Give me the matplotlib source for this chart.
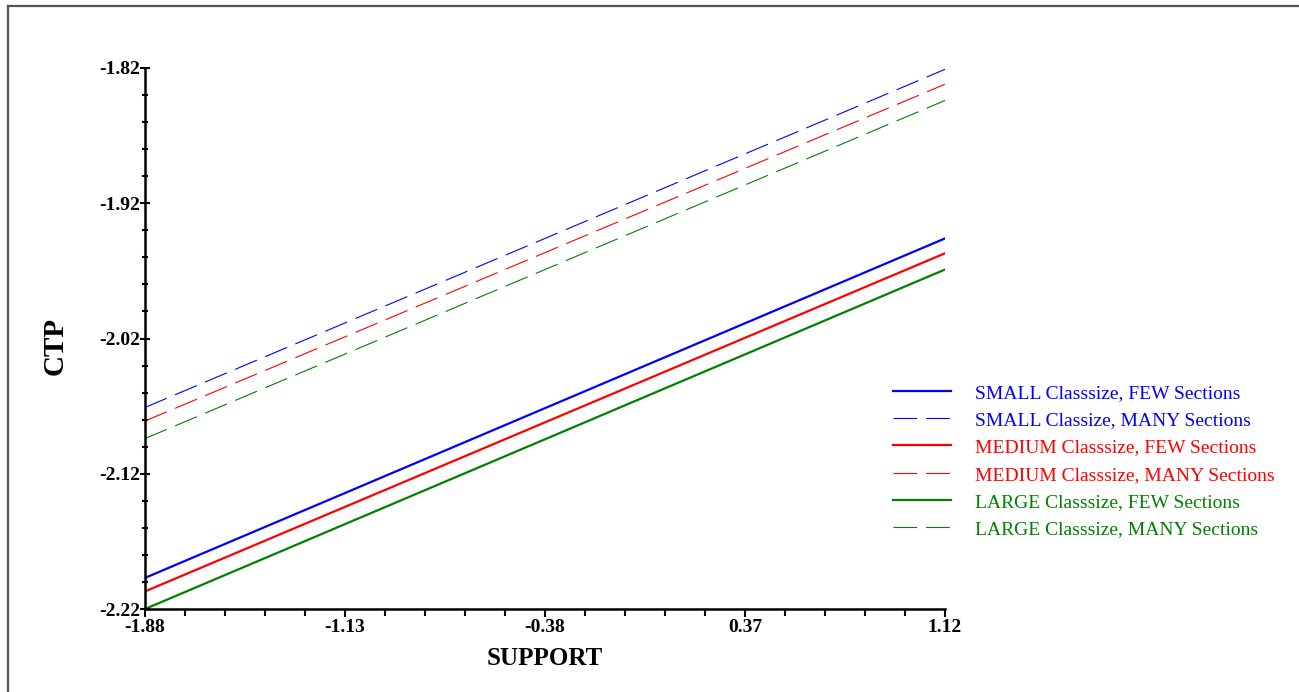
import matplotlib.pyplot as plt
from matplotlib.lines import Line2D
from matplotlib.ticker import MultipleLocator, FixedLocator

# Data: predicted CTP at the two ends of the SUPPORT range
support = [-1.88, 1.12]
small_few = [-2.197, -1.946]
small_many = [-2.071, -1.821]
medium_few = [-2.207, -1.957]
medium_many = [-2.081, -1.832]
large_few = [-2.220, -1.969]
large_many = [-2.094, -1.844]

xticks = [-1.88, -1.13, -0.38, 0.37, 1.12]
yticks = [-2.22, -2.12, -2.02, -1.92, -1.82]

labels = ["SMALL Classsize, FEW Sections", "SMALL Classize, MANY Sections",
          "MEDIUM Classsize, FEW Sections", "MEDIUM Classsize, MANY Sections",
          "LARGE Classsize, FEW Sections", "LARGE Classsize, MANY Sections"]

blue, red, green = "#0000ff", "#ff0000", "#008000"

plt.rcParams['font.family'] = ['Liberation Serif', 'DejaVu Serif']
plt.rcParams['lines.scale_dashes'] = False

fig = plt.figure(figsize=(12.99, 6.92), dpi=100)
ax = fig.add_axes([145/1299, 83/692, 800/1299, 541/692])

dash = (0, (17, 6.5))
ax.plot(support, small_few, color=blue, lw=1.6, label=labels[0])
ax.plot(support, small_many, color=blue, lw=0.8, linestyle=dash, label=labels[1])
ax.plot(support, medium_few, color=red, lw=1.6, label=labels[2])
ax.plot(support, medium_many, color=red, lw=0.8, linestyle=dash, label=labels[3])
ax.plot(support, large_few, color=green, lw=1.6, label=labels[4])
ax.plot(support, large_many, color=green, lw=0.8, linestyle=dash, label=labels[5])

ax.set_xlim(-1.88, 1.12)
ax.set_ylim(-2.22, -1.82)
ax.xaxis.set_major_locator(FixedLocator(xticks))
ax.yaxis.set_major_locator(FixedLocator(yticks))
ax.xaxis.set_minor_locator(MultipleLocator(0.15, offset=-1.88))
ax.yaxis.set_minor_locator(MultipleLocator(0.02, offset=-2.22))
ax.set_xticklabels([f"{v:.2f}" for v in xticks])
ax.set_yticklabels([f"{v:.2f}" for v in yticks])

for s in ["top", "right"]:
    ax.spines[s].set_visible(False)
for s in ["left", "bottom"]:
    ax.spines[s].set_linewidth(1.8)
    ax.spines[s].set_color("black")

ax.tick_params(axis="x", which="major", direction="out", length=6, width=1.5, pad=1)
ax.tick_params(axis="x", which="minor", direction="out", length=5, width=1.5)
ax.tick_params(axis="y", which="major", direction="inout", length=7, width=1.5, pad=0)
ax.tick_params(axis="y", which="minor", direction="inout", length=5, width=1.5)
for t in ax.get_xticklabels() + ax.get_yticklabels():
    t.set_fontsize(14)
    t.set_fontweight("bold")

ax.set_xlabel("SUPPORT", fontsize=18, fontweight="bold")
ax.xaxis.set_label_coords(0.5, -0.071)
ax.set_ylabel("CTP", fontsize=21, fontweight="bold")
ax.yaxis.set_label_coords(-0.095, 0.486)

leg = fig.legend(loc="upper left", bbox_to_anchor=(893/1299, 1 - 384/692),
                 frameon=False, fontsize=14, handlelength=3.0,
                 handletextpad=1.2, labelspacing=0.5, borderpad=0,
                 borderaxespad=0)
for txt, ln in zip(leg.get_texts(), leg.get_lines()):
    txt.set_color(ln.get_color())

# page frame (top and left edges)
fig.add_artist(Line2D([8/1299, 1], [1 - 6/692, 1 - 6/692], color="#555555", lw=1.6,
                      transform=fig.transFigure))
fig.add_artist(Line2D([8/1299, 8/1299], [0, 1 - 6/692], color="#555555", lw=1.6,
                      transform=fig.transFigure))

fig.savefig("out.png", dpi=100)
